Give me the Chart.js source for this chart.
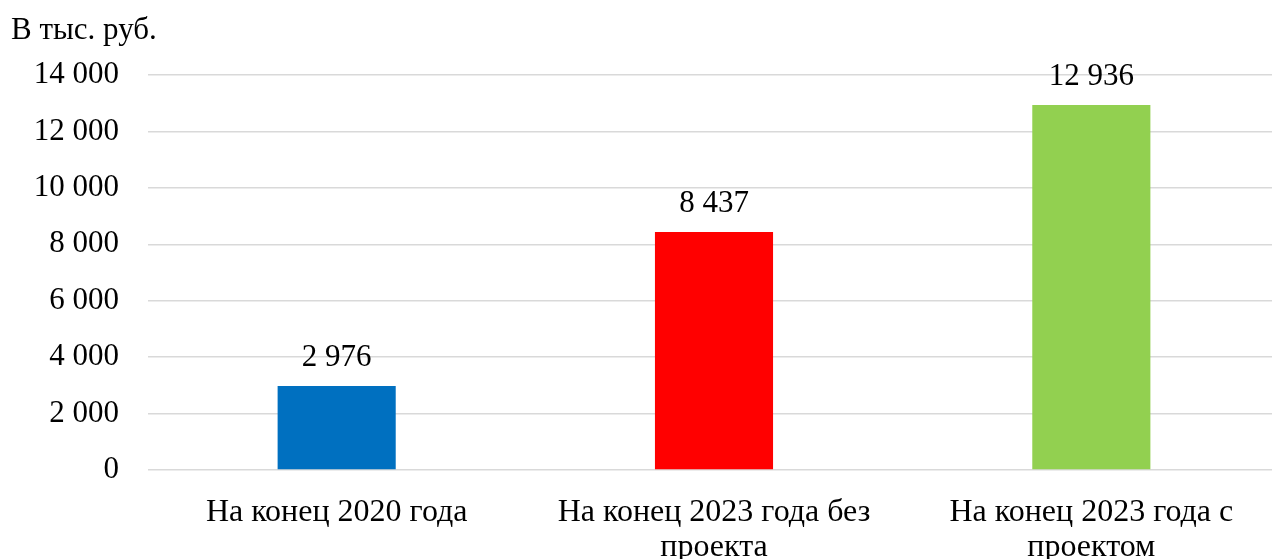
<!DOCTYPE html>
<html>
<head>
<meta charset="utf-8">
<script src="https://cdn.jsdelivr.net/npm/chart.js@4/dist/chart.umd.min.js"></script>
<style>
  html, body { margin: 0; padding: 0; background: #fff; overflow: hidden; }
  #wrap { position: relative; width: 1280px; height: 559px; }
  #unit { position: absolute; left: 11px; top: 11px; font-family: "Liberation Serif", "Times New Roman", serif; font-size: 31px; color: #000; white-space: nowrap; }
</style>
</head>
<body>
<div id="wrap">
  <div id="unit">В тыс. руб.</div>
  <canvas id="c" width="1280" height="559"></canvas>
</div>
<script>
// Остатки на конец периода, тыс. руб.
const categories = [
  ["На конец 2020 года"],
  ["На конец 2023 года без", "проекта"],
  ["На конец 2023 года с", "проектом"]
];
const values = [2976, 8437, 12936];
const barColors = ["#0070C0", "#FF0000", "#92D050"];
const yTicks = [0, 2000, 4000, 6000, 8000, 10000, 12000, 14000];

const FONT = '"Liberation Serif", "Times New Roman", serif';

function fmt(v) {
  return String(Math.round(v)).replace(/\B(?=(\d{3})+(?!\d))/g, " ");
}

// Подписи значений над столбцами
const valueLabels = {
  id: "valueLabels",
  afterDatasetsDraw(chart) {
    const ctx = chart.ctx;
    const meta = chart.getDatasetMeta(0);
    ctx.save();
    ctx.font = "31px " + FONT;
    ctx.fillStyle = "#000";
    ctx.textAlign = "center";
    ctx.textBaseline = "alphabetic";
    meta.data.forEach((bar, i) => {
      ctx.fillText(fmt(values[i]), bar.x, bar.y - 20);
    });
    ctx.restore();
  }
};

new Chart(document.getElementById("c"), {
  type: "bar",
  data: {
    labels: categories,
    datasets: [{
      data: values,
      backgroundColor: barColors,
      borderWidth: 0,
      barPercentage: 1,
      categoryPercentage: 0.313
    }]
  },
  options: {
    responsive: false,
    animation: false,
    events: [],
    layout: { padding: { top: 75, right: 0, left: 0, bottom: 0 } },
    plugins: {
      legend: { display: false },
      title: { display: false },
      tooltip: { enabled: false }
    },
    scales: {
      x: {
        grid: { display: false, drawTicks: false },
        border: { display: false },
        ticks: {
          color: "#000",
          font: { family: FONT, size: 32, lineHeight: 1.1 },
          padding: 25,
          maxRotation: 0,
          autoSkip: false
        },
        afterFit(scale) { scale.height = 89; }
      },
      y: {
        min: 0,
        max: 14000,
        afterBuildTicks(scale) { scale.ticks = yTicks.map(v => ({ value: v })); },
        grid: { color: "#d9d9d9", lineWidth: 1.5, drawTicks: false },
        border: { display: false },
        ticks: {
          color: "#000",
          font: { family: FONT, size: 31 },
          padding: 29,
          callback: (v) => fmt(v)
        },
        afterFit(scale) { scale.width = 148; }
      }
    }
  },
  plugins: [valueLabels]
});
</script>
</body>
</html>
